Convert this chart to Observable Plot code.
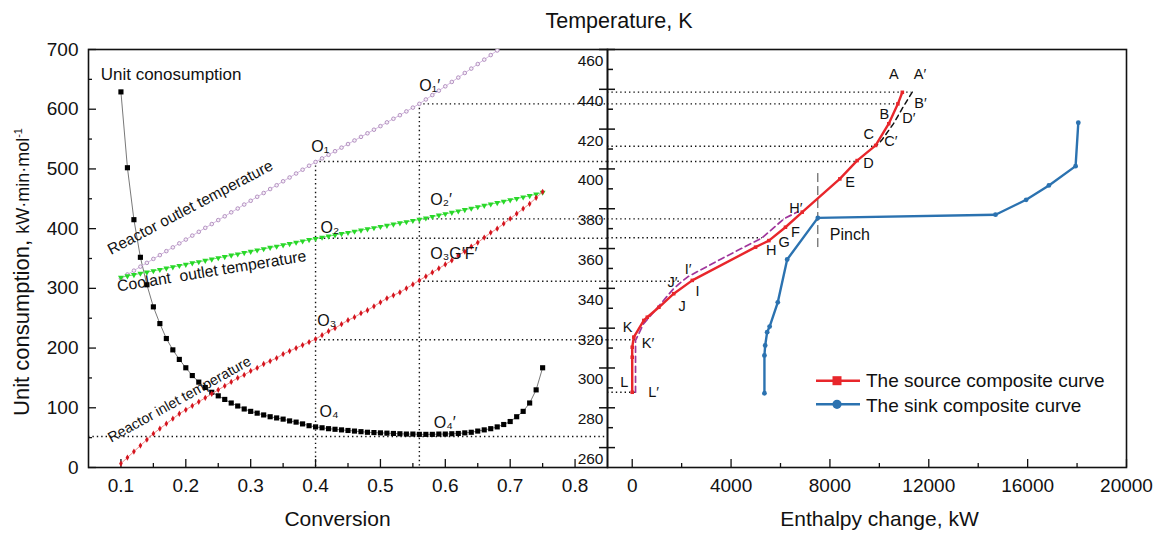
<!DOCTYPE html>
<html><head><meta charset="utf-8">
<script src="https://cdn.jsdelivr.net/npm/d3@7"></script>
<script src="https://cdn.jsdelivr.net/npm/@observablehq/plot@0.6"></script>
<style>
body{margin:0;background:#fff;font-family:"Liberation Sans",Arial,sans-serif;color:#111;}
#wrap{position:relative;width:1162px;height:534px;overflow:hidden;background:#fff;}
.layer{position:absolute;left:0;top:0;}
.layer svg{background:transparent !important;overflow:visible;}
.t{position:absolute;white-space:nowrap;line-height:1;color:#111;}
</style></head><body>
<div id="wrap">
  <div id="pA" class="layer"></div>
  <div id="pB" class="layer"></div>
  <div id="pC" class="layer"></div>
  <div class="t" style="left:619px;top:11px;transform:translateX(-50%);font-size:21.5px">Temperature, K</div>
  <div class="t" style="left:337.5px;top:507.5px;transform:translateX(-50%);font-size:21px">Conversion</div>
  <div class="t" style="left:879.5px;top:507.5px;transform:translateX(-50%);font-size:21px">Enthalpy change, kW</div>
  <div class="t" style="left:20.4px;top:271.5px;transform:translate(-50%,-50%) rotate(-90deg);font-size:22px;line-height:22px">Unit consumption, <span style="font-size:18px">kW·min·mol<sup style="font-size:11px">-1</sup></span></div>
  <svg style="position:absolute;left:810px;top:370px" width="56" height="46">
    <line x1="6" y1="10.7" x2="50" y2="10.7" stroke="#e8262b" stroke-width="2.4"/>
    <rect x="22.5" y="6.2" width="9" height="9" fill="#e8262b"/>
    <line x1="6" y1="34.3" x2="50" y2="34.3" stroke="#2b72b0" stroke-width="2.4"/>
    <circle cx="27" cy="34.3" r="4.6" fill="#2b72b0"/>
  </svg>
  <div class="t" style="left:866px;top:371px;font-size:19px">The source composite curve</div>
  <div class="t" style="left:866px;top:395.5px;font-size:19px">The sink composite curve</div>
</div>
<script>
// ---------- Left panel data ----------
const conversion = [0.10,0.11,0.12,0.13,0.14,0.15,0.16,0.17,0.18,0.19,0.20,0.21,0.22,0.23,0.24,0.25,0.26,0.27,0.28,0.29,0.30,0.31,0.32,0.33,0.34,0.35,0.36,0.37,0.38,0.39,0.40,0.41,0.42,0.43,0.44,0.45,0.46,0.47,0.48,0.49,0.50,0.51,0.52,0.53,0.54,0.55,0.56,0.57,0.58,0.59,0.60,0.61,0.62,0.63,0.64,0.65,0.66,0.67,0.68,0.69,0.70,0.71,0.72,0.73,0.74,0.75];
const unitConsumption = [629,502,415,352,306,269,241,216,197,181,167,154,143,134,126,120,114,108,103,98,94,91,88,85,83,81,78,76,73,70,68,66.5,65,64,63,62,61,60,59,58.5,58,57.5,57,56.5,56,56,55.5,55.5,55.5,56,56,56.5,57,58,59,61,63,65,68,72,77,85,94,108,130,167];
const reactorOutletT = [345.0,347.0,348.9,350.9,352.8,354.8,356.7,358.7,360.6,362.6,364.5,366.5,368.4,370.4,372.3,374.3,376.2,378.2,380.1,382.1,384.0,386.0,387.9,389.9,391.8,393.8,395.7,397.7,399.6,401.6,403.5,405.3,407.1,408.9,410.7,412.5,414.3,416.1,417.9,419.7,421.5,423.4,425.2,427.0,428.9,430.8,432.7,434.9,437.1,439.3,441.5,443.7,445.9,448.2,450.4,452.7,454.9,457.2,459.5,461.8,464.1,466.5,468.8,471.2,473.6,476.0];
const coolantOutletT = [345.5,346.2,346.8,347.5,348.1,348.8,349.4,350.1,350.7,351.4,352.0,352.7,353.3,354.0,354.6,355.3,355.9,356.6,357.2,357.9,358.5,359.2,359.8,360.5,361.1,361.8,362.4,363.1,363.7,364.4,365.0,365.6,366.2,366.8,367.4,368.0,368.6,369.2,369.8,370.4,371.0,371.6,372.2,372.8,373.4,374.0,374.6,375.3,376.0,376.7,377.4,378.1,378.8,379.5,380.2,380.9,381.6,382.3,383.0,383.7,384.4,385.1,385.8,386.5,387.3,388.2];
const reactorInletT = [252,255,258,261,264,267,269.5,272,274.5,277,279,281,283,285,287,289,291,293,295,296.5,298.5,300,302,303.5,305,307,308.5,310,311.5,313,314.5,316.5,318.5,320,322,324,325.5,327.5,329,331,333,335,336.5,338,340,342,344,346,348,350,352,354,356.5,358.5,361,363,365.5,368,370,372.5,375,377.5,380,382.5,385.5,388.5];
const convTicks = [0.1,0.2,0.3,0.4,0.5,0.6,0.7,0.8];
const convMinor = [0.15,0.25,0.35,0.45,0.55,0.65,0.75];
const ucTicks = [0,100,200,300,400,500,600,700];
const ucMinor = [50,150,250,350,450,550,650];
const ucGuide = [52];
const leftGuidesH = [{c:0.4,t:403.7},{c:0.56,t:432.7},{c:0.4,t:365.2},{c:0.56,t:374.9},{c:0.4,t:314.2},{c:0.56,t:343.6}];
const leftGuidesV = [{c:0.4,t:403.7},{c:0.56,t:432.7}];
const oLabelsT = [
  {text:"O₁",c:0.3934,t:411.3},{text:"O₁′",c:0.560,t:441.7},
  {text:"O₂",c:0.4077,t:370.6},{text:"O₂′",c:0.5769,t:384.4},
  {text:"O₃G′F′",c:0.5769,t:357.4},{text:"O₃",c:0.4026,t:323.9}];
const oLabelsU = [{text:"O₄",c:0.4062,u:92.6},{text:"O₄′",c:0.5821,u:75.4}];
const curveNote = [{text:"Unit conosumption",c:0.0688,u:658}];
const rotLabels = [
  {text:"Reactor outlet temperature",c:0.2068,t:380.6,rot:-27.8,size:15.5},
  {text:"Coolant\u00a0 outlet temperature",c:0.2398,t:348.6,rot:-9.2,size:15.8},
  {text:"Reactor inlet temperature",c:0.1903,t:284.2,rot:-29.2,size:14.3}];

// ---------- Right panel data ----------
const sourceH = [0,0,0,65,470,610,1080,1680,2430,4990,5530,6200,6880,8400,9100,9850,10380,10750,10930];
const sourceT = [287.8,305.4,310.4,315.5,323.9,325.5,330.5,337.3,344.0,360.7,364.0,370.7,378.3,395.0,404.2,411.8,422.7,432.7,438.5];
const sinkH = [5350,5350,5380,5460,5560,5890,6270,7510,14700,15940,16860,17940,18050];
const sinkT = [287.3,306.3,311.3,318.0,320.8,333.0,354.5,375.4,377.0,384.5,391.7,401.4,423.2];
const shiftLowH = [134,134,450,1000,1650,2023,2250,3600,5260,6135,6700];
const shiftLowT = [287.8,313.8,322,330,339.5,343.6,345.8,354.8,365.4,374.9,378.5];
const shiftTopH = [11330,10980,10560,10100,9860];
const shiftTopT = [438.6,431.5,422.5,414.5,411.4];
const pinch = [{h:7510,t1:360.5,t2:397.7}];
const rightGuides = [{h:11300,t:438.6},{h:10730,t:432.7},{h:9760,t:411.4},{h:9110,t:403.7},{h:6135,t:374.9},{h:5260,t:365.4},{h:2023,t:343.6},{h:134,t:314.2},{h:134,t:287.8}];
const hTicks = [0,4000,8000,12000,16000,20000];
const hMinor = [2000,6000,10000,14000,18000];
const tTicks = [260,280,300,320,340,360,380,400,420,440,460];
const tMinor = [270,290,310,330,350,370,390,410,430,450];
const pointLabels = [
  {text:"A",h:10585,t:447.3},{text:"A′",h:11645,t:447.3},{text:"B′",h:11665,t:432.7},
  {text:"B",h:10202,t:427.4},{text:"D′",h:11193,t:425.3},{text:"C",h:9575,t:417.2},
  {text:"C′",h:10465,t:414.0},{text:"D",h:9562,t:402.6},{text:"E",h:8813,t:393.5},
  {text:"H′",h:6621,t:380.0},{text:"F",h:6608,t:368.2},{text:"G",h:6150,t:363.0},
  {text:"H",h:5630,t:359.0},{text:"I′",h:2258,t:349.6},{text:"J′",h:1631,t:342.9},
  {text:"I",h:2642,t:338.7},{text:"J",h:2015,t:331.0},{text:"K",h:-190,t:320.2},
  {text:"K′",h:639,t:312.5},{text:"L",h:-320,t:292.7},{text:"L′",h:862,t:287.7}];
const pinchLabel = [{text:"Pinch",h:7995,t:366.8}];

// ---------- build ----------
const FONT = '"Liberation Sans", Arial, sans-serif';
const STYLE = {background:"transparent", overflow:"visible", fontFamily: FONT, color:"#111"};
const W = 1162, H = 534, MT = 49, MB = 67;
const DOT = "1.4,3";

const ucData = conversion.map((c,i)=>({c, u: unitConsumption[i]}));
const outData = conversion.map((c,i)=>({c, t: reactorOutletT[i]}));
const coolData = conversion.map((c,i)=>({c, t: coolantOutletT[i]}));
const inData = conversion.map((c,i)=>({c, t: reactorInletT[i]}));
const srcData = sourceH.map((h,i)=>({h, t: sourceT[i]}));
const sinkData = sinkH.map((h,i)=>({h, t: sinkT[i]}));
const lowData = shiftLowH.map((h,i)=>({h, t: shiftLowT[i]}));
const topData = shiftTopH.map((h,i)=>({h, t: shiftTopT[i]}));

const pA = Plot.plot({
  width: W, height: H, marginLeft: 88, marginRight: W-607, marginTop: MT, marginBottom: MB,
  style: STYLE,
  x: {domain:[0.05,0.85], label:null},
  y: {domain:[0,700], label:null},
  marks: [
    Plot.ruleY(ucGuide, {stroke:"#111", strokeWidth:1.4, strokeDasharray:DOT}),
    Plot.line(ucData, {x:"c", y:"u", stroke:"#555", strokeWidth:0.8}),
    Plot.dot(ucData, {x:"c", y:"u", symbol:"square", r:2.9, fill:"#000"}),
    Plot.text(oLabelsU, {x:"c", y:"u", text:"text", textAnchor:"start", fontSize:16, fill:"#111"}),
    Plot.text(curveNote, {x:"c", y:"u", text:"text", textAnchor:"start", fontSize:17, fill:"#111"}),
    Plot.axisY(ucTicks, {anchor:"left", tickSize:8, dx:8, tickPadding:10, fontSize:19, label:null, strokeWidth:1.3}),
    Plot.axisY(ucMinor, {anchor:"left", tickSize:4, dx:4, fill:"none", label:null, strokeWidth:1.3}),
    Plot.axisX(convTicks, {anchor:"bottom", tickSize:8, dy:-8, tickPadding:11, fontSize:19, label:null, strokeWidth:1.3}),
    Plot.axisX(convMinor, {anchor:"bottom", tickSize:4, dy:-4, fill:"none", label:null, strokeWidth:1.3}),
    Plot.frame({strokeWidth:1.6, stroke:"#111"})
  ]
});
document.getElementById("pA").append(pA);

const pB = Plot.plot({
  width: W, height: H, marginLeft: 88, marginRight: W-607, marginTop: MT, marginBottom: MB,
  style: STYLE,
  x: {domain:[0.05,0.85], axis:null},
  y: {domain:[250,460], axis:null},
  marks: [
    Plot.ruleY(leftGuidesH, {y:"t", x1:"c", x2:0.85, stroke:"#111", strokeWidth:1.4, strokeDasharray:DOT}),
    Plot.ruleX(leftGuidesV, {x:"c", y1:"t", y2:250, stroke:"#111", strokeWidth:1.4, strokeDasharray:DOT}),
    Plot.line(outData, {x:"c", y:"t", stroke:"#d4b8e0", strokeWidth:1, clip:true}),
    Plot.dot(outData, {x:"c", y:"t", r:1.8, stroke:"#a47cb4", strokeWidth:0.8, fill:"#f6f0f8", clip:true}),
    Plot.line(coolData, {x:"c", y:"t", stroke:"#6ee06e", strokeWidth:1}),
    Plot.dot(coolData, {x:"c", y:"t", symbol:"triangle", rotate:180, r:2.2, fill:"#28d828"}),
    Plot.line(inData, {x:"c", y:"t", stroke:"#f28a8a", strokeWidth:1}),
    Plot.dot(inData, {x:"c", y:"t", symbol:"diamond", r:1.9, fill:"#d4141e"}),
    Plot.text(oLabelsT, {x:"c", y:"t", text:"text", textAnchor:"start", fontSize:16, fill:"#111"}),
    Plot.text([rotLabels[0]], {x:"c", y:"t", text:"text", rotate:rotLabels[0].rot, fontSize:rotLabels[0].size, fill:"#111"}),
    Plot.text([rotLabels[1]], {x:"c", y:"t", text:"text", rotate:rotLabels[1].rot, fontSize:rotLabels[1].size, fill:"#111"}),
    Plot.text([rotLabels[2]], {x:"c", y:"t", text:"text", rotate:rotLabels[2].rot, fontSize:rotLabels[2].size, fill:"#111"})
  ]
});
document.getElementById("pB").append(pB);

const pC = Plot.plot({
  width: W, height: H, marginLeft: 607, marginRight: W-1126, marginTop: MT, marginBottom: MB,
  style: STYLE,
  x: {domain:[-1000,20000], label:null},
  y: {domain:[250,460], label:null},
  marks: [
    Plot.ruleY(rightGuides, {y:"t", x1:-1000, x2:"h", stroke:"#111", strokeWidth:1.4, strokeDasharray:DOT}),
    Plot.ruleX(pinch, {x:"h", y1:"t1", y2:"t2", stroke:"#444", strokeWidth:1, strokeDasharray:"9,4"}),
    Plot.line(sinkData, {x:"h", y:"t", stroke:"#2b72b0", strokeWidth:2.4}),
    Plot.dot(sinkData, {x:"h", y:"t", r:2.4, fill:"#2b72b0"}),
    Plot.line(lowData, {x:"h", y:"t", stroke:"#a0359b", strokeWidth:1.7, strokeDasharray:"6,4"}),
    Plot.line(topData, {x:"h", y:"t", stroke:"#111", strokeWidth:1.5, strokeDasharray:"5,4"}),
    Plot.line(srcData, {x:"h", y:"t", stroke:"#e8262b", strokeWidth:2.4}),
    Plot.dot(srcData, {x:"h", y:"t", symbol:"square", r:2, fill:"#e8262b"}),
    Plot.text(pointLabels, {x:"h", y:"t", text:"text", fontSize:14.5, fill:"#111"}),
    Plot.text(pinchLabel, {x:"h", y:"t", text:"text", textAnchor:"start", fontSize:16, fill:"#111"}),
    Plot.axisY(tTicks, {anchor:"left", tickSize:16, dx:8, fill:"none", label:null, strokeWidth:1.5}),
    Plot.axisY(tMinor, {anchor:"left", tickSize:6, dx:6, fill:"none", label:null, strokeWidth:1.5}),
    Plot.axisY(tTicks, {anchor:"left", tickSize:0, tickPadding:4, dy:11.5, fontSize:15.5, label:null}),
    Plot.axisX(hTicks, {anchor:"bottom", tickSize:8, dy:-8, tickPadding:11, fontSize:19, label:null, strokeWidth:1.3, tickFormat:d=>String(d)}),
    Plot.axisX(hMinor, {anchor:"bottom", tickSize:4, dy:-4, fill:"none", label:null, strokeWidth:1.3}),
    Plot.frame({strokeWidth:1.6, stroke:"#111"})
  ]
});
document.getElementById("pC").append(pC);
</script>
</body></html>
